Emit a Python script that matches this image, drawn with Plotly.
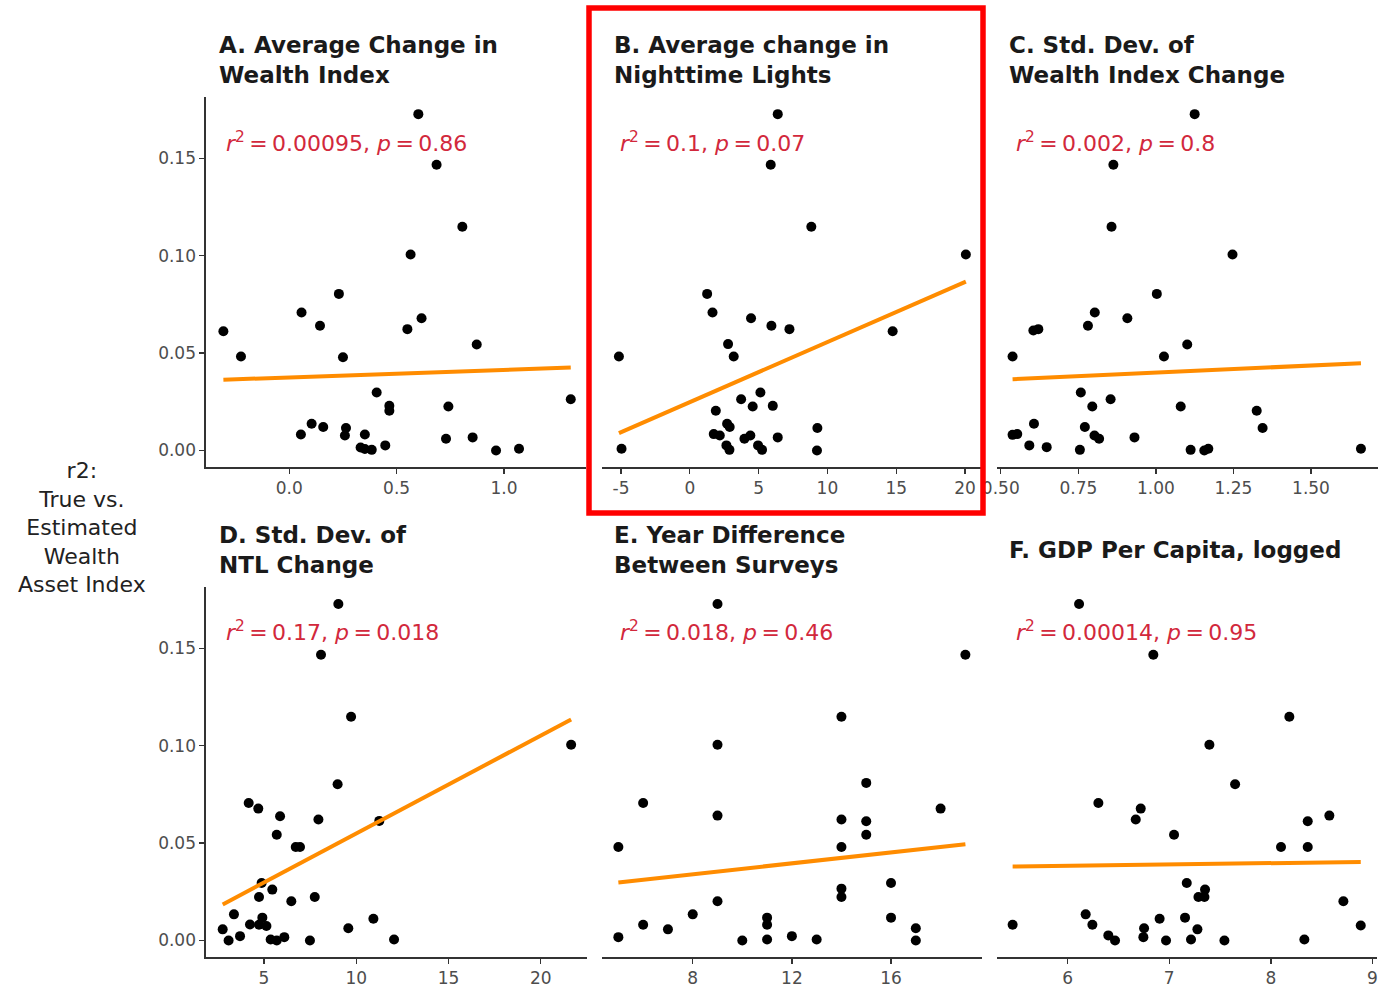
import numpy as np
import plotly.graph_objects as go

W, H = 1388, 988

# ---------------- data ----------------
A_x = [-0.307, -0.225, 0.057, 0.143, 0.231, 0.250, 0.054, 0.104, 0.158, 0.264, 0.259, 0.352, 0.332, 0.352,
       0.384, 0.407, 0.466, 0.466, 0.447, 0.550, 0.565, 0.601, 0.616, 0.686, 0.806, 0.873, 0.741, 0.730,
       0.854, 0.963, 1.070, 1.311]
A_y = [0.0612, 0.0482, 0.0708, 0.0640, 0.0804, 0.0479, 0.0082, 0.0137, 0.0120, 0.0115, 0.0077, 0.0082, 0.0015, 0.0007,
       0.0003, 0.0298, 0.0229, 0.0204, 0.0026, 0.0623, 0.1006, 0.1727, 0.0679, 0.1467, 0.1149, 0.0544, 0.0226, 0.0060,
       0.0067, 0.0000, 0.0009, 0.0263]

B_x = [-5.15, -4.96, 1.26, 1.65, 2.78, 3.19, 4.45, 5.93, 7.24, 6.39, 5.88, 8.83, 20.06, 14.74, 3.73, 5.13,
       4.57, 6.03, 1.89, 2.71, 2.90, 1.74, 2.18, 3.97, 4.40, 6.39, 9.27, 9.24, 2.66, 2.88, 4.96, 5.25]
B_y = [0.0482, 0.0009, 0.0804, 0.0708, 0.0546, 0.0482, 0.0679, 0.0640, 0.0623, 0.1727, 0.1467, 0.1149, 0.1006, 0.0612,
       0.0263, 0.0298, 0.0226, 0.0229, 0.0204, 0.0137, 0.0120, 0.0084, 0.0077, 0.0060, 0.0077, 0.0067, 0.0115, 0.0000,
       0.0026, 0.0003, 0.0026, 0.0003]

C_x = [0.538, 0.538, 0.553, 0.605, 0.621, 0.607, 0.592, 0.648, 0.758, 0.755, 0.771, 0.781, 0.803, 0.795, 0.802,
       0.817, 0.854, 0.863, 0.857, 0.908, 0.931, 1.003, 1.026, 1.101, 1.080, 1.112, 1.125, 1.156, 1.169, 1.247,
       1.325, 1.344, 1.661]
C_y = [0.0482, 0.0080, 0.0084, 0.0616, 0.0623, 0.0137, 0.0026, 0.0017, 0.0298, 0.0003, 0.0120, 0.0640, 0.0708, 0.0226,
       0.0077, 0.0060, 0.0263, 0.1467, 0.1149, 0.0679, 0.0067, 0.0804, 0.0482, 0.0544, 0.0226, 0.0003, 0.1727, 0.0000,
       0.0009, 0.1006, 0.0204, 0.0115, 0.0009]

D_x = [2.76, 3.08, 3.37, 3.70, 4.17, 4.69, 4.24, 4.73, 4.73, 4.91, 5.13, 4.87, 5.45, 5.36, 5.69, 5.69, 5.87,
       6.10, 6.48, 6.72, 6.95, 7.49, 7.75, 7.95, 8.09, 9.03, 8.99, 9.57, 9.72, 10.93, 11.25, 12.05, 21.65]
D_y = [0.0057, 0.0000, 0.0134, 0.0022, 0.0706, 0.0677, 0.0082, 0.0223, 0.0081, 0.0117, 0.0074, 0.0295, 0.0261, 0.0005,
       0.0000, 0.0543, 0.0638, 0.0017, 0.0201, 0.0480, 0.0480, 0.0000, 0.0223, 0.0621, 0.1467, 0.1728, 0.0802, 0.0063,
       0.1149, 0.0111, 0.0614, 0.0005, 0.1005]

E_x = [5, 5, 6, 6, 7, 8, 9, 9, 9, 9, 10, 11, 11, 11, 12, 13, 14, 14, 14, 14, 14, 15, 15, 15, 16, 16, 17, 17, 18, 19]
E_y = [0.0480, 0.0017, 0.0706, 0.0081, 0.0057, 0.0134, 0.1728, 0.1005, 0.0641, 0.0201, 0.0000, 0.0117, 0.0081, 0.0005,
       0.0022, 0.0005, 0.1149, 0.0621, 0.0480, 0.0266, 0.0223, 0.0809, 0.0612, 0.0543, 0.0295, 0.0117, 0.0063, 0.0000,
       0.0677, 0.1467]

F_x = [5.458, 6.112, 6.177, 6.243, 6.302, 6.400, 6.466, 6.670, 6.719, 6.752, 6.745, 6.843, 6.905, 6.968, 7.047,
       7.172, 7.155, 7.214, 7.277, 7.287, 7.352, 7.346, 7.395, 7.543, 7.648, 8.100, 8.182, 8.363, 8.363, 8.330,
       8.576, 8.714, 8.885]
F_y = [0.0081, 0.1728, 0.0134, 0.0081, 0.0706, 0.0026, 0.0000, 0.0621, 0.0677, 0.0063, 0.0017, 0.1467, 0.0111, 0.0000,
       0.0543, 0.0295, 0.0117, 0.0005, 0.0057, 0.0223, 0.0261, 0.0223, 0.1005, 0.0000, 0.0802, 0.0480, 0.1149, 0.0612,
       0.0480, 0.0005, 0.0641, 0.0201, 0.0077]

# fitted regression line values at the smallest and largest x of each panel
fit_y_at_xmin = [0.0363, 0.0089, 0.0366, 0.0185, 0.0298, 0.0380]
fit_y_at_xmax = [0.0426, 0.0867, 0.0448, 0.1135, 0.0494, 0.0403]

titles = ["A. Average Change in<br>Wealth Index",
          "B. Average change in<br>Nighttime Lights",
          "C. Std. Dev. of<br>Wealth Index Change",
          "D. Std. Dev. of<br>NTL Change",
          "E. Year Difference<br>Between Surveys",
          "F. GDP Per Capita, logged"]
r2_labels = ["0.00095", "0.1", "0.002", "0.17", "0.018", "0.00014"]
p_labels = ["0.86", "0.07", "0.8", "0.018", "0.46", "0.95"]

x_ticks = [[0.0, 0.5, 1.0], [-5, 0, 5, 10, 15, 20], [0.50, 0.75, 1.00, 1.25, 1.50],
           [5, 10, 15, 20], [8, 12, 16], [6, 7, 8, 9]]
x_ticktext = [["0.0", "0.5", "1.0"], ["-5", "0", "5", "10", "15", "20"],
              ["0.50", "0.75", "1.00", "1.25", "1.50"], ["5", "10", "15", "20"],
              ["8", "12", "16"], ["6", "7", "8", "9"]]
y_ticks = [0.00, 0.05, 0.10, 0.15]
y_ticktext = ["0.00", "0.05", "0.10", "0.15"]

xs = [A_x, B_x, C_x, D_x, E_x, F_x]
ys = [A_y, B_y, C_y, D_y, E_y, F_y]

# ---------------- layout geometry (pixels) ----------------
x_dom_px = [(206, 586), (602, 981), (997, 1378), (206, 587), (602, 982), (997, 1377)]
y_dom_px = [(97, 467)] * 3 + [(587, 957)] * 3
x_ranges = [(-0.388, 1.382), (-6.38, 21.16), (0.4878, 1.716), (1.855, 22.51), (4.34, 19.67), (5.304, 9.045)]
y_range = (-0.0085, 0.1815)
title_left = [217, 612, 1007, 217, 612, 1007]
title_cy = [60.5, 60.5, 60.5, 550, 550, 550]
lab_left = [224, 618, 1014, 224, 618, 1014]
lab_cy = [142, 142, 142, 631, 631, 631]

FONT = "DejaVu Sans"
AXC = "#333333"
TICKC = "#4d4d4d"
RED_TXT = "#d2283c"


def xp(px):
    return px / W


def yp(py):
    return 1 - py / H


fig = go.Figure()
layout = dict(width=W, height=H, margin=dict(l=0, r=0, t=0, b=0, pad=0, autoexpand=False),
              paper_bgcolor="white", plot_bgcolor="white", showlegend=False,
              font=dict(family=FONT, color="#222"))
annotations = []

for i in range(6):
    n = "" if i == 0 else str(i + 1)
    xa, ya = "x" + n, "y" + n
    x = np.array(xs[i], dtype=float)
    y = np.array(ys[i], dtype=float)
    # points
    fig.add_trace(go.Scatter(x=x, y=y, mode="markers", xaxis=xa, yaxis=ya,
                             marker=dict(color="black", size=10, line=dict(width=0)),
                             hoverinfo="skip"))
    # linear fit line
    fig.add_trace(go.Scatter(x=[x.min(), x.max()], y=[fit_y_at_xmin[i], fit_y_at_xmax[i]],
                             mode="lines", xaxis=xa, yaxis=ya,
                             line=dict(color="#ff8c00", width=4), hoverinfo="skip"))
    show_y = i in (0, 3)
    layout["xaxis" + n] = dict(domain=[xp(x_dom_px[i][0]), xp(x_dom_px[i][1])],
                               range=list(x_ranges[i]), anchor=ya, automargin=False,
                               showline=True, linecolor=AXC, linewidth=1.6,
                               ticks="outside", ticklen=5, tickwidth=1.4, tickcolor=AXC,
                               tickvals=x_ticks[i], ticktext=x_ticktext[i],
                               tickfont=dict(family=FONT, size=17, color=TICKC),
                               showgrid=False, zeroline=False, fixedrange=True)
    layout["yaxis" + n] = dict(domain=[yp(y_dom_px[i][1]), yp(y_dom_px[i][0])],
                               range=list(y_range), anchor=xa, automargin=False,
                               showline=show_y, linecolor=AXC, linewidth=1.6,
                               ticks="outside" if show_y else "", ticklen=5, tickwidth=1.4, tickcolor=AXC,
                               tickvals=y_ticks, ticktext=y_ticktext, showticklabels=show_y,
                               tickfont=dict(family=FONT, size=17, color=TICKC),
                               showgrid=False, zeroline=False, fixedrange=True)
    annotations.append(dict(xref="paper", yref="paper", x=xp(title_left[i]), y=yp(title_cy[i]),
                            xanchor="left", yanchor="middle", align="left", showarrow=False,
                            text="<b>" + titles[i] + "</b>",
                            font=dict(family=FONT, size=23, color="#1a1a1a")))
    annotations.append(dict(xref="paper", yref="paper", x=xp(lab_left[i]), y=yp(lab_cy[i]),
                            xanchor="left", yanchor="middle", align="left", showarrow=False,
                            text="<i>r</i><sup>2</sup>\u2009=\u2009" + r2_labels[i] + ", <i>p</i>\u2009=\u2009" + p_labels[i],
                            font=dict(family=FONT, size=22, color=RED_TXT)))

annotations.append(dict(xref="paper", yref="paper", x=xp(82), y=yp(527.5), xanchor="center", yanchor="middle",
                        align="center", showarrow=False,
                        text="r2:<br>True vs.<br>Estimated<br>Wealth<br>Asset Index",
                        font=dict(family=FONT, size=22, color="#222")))

layout["annotations"] = annotations
layout["shapes"] = [dict(type="rect", xref="paper", yref="paper", layer="above",
                         x0=xp(589), x1=xp(983), y0=yp(513), y1=yp(8),
                         line=dict(color="#ff0000", width=5.5), fillcolor="rgba(0,0,0,0)")]
fig.update_layout(**layout)
fig.write_html("out.html", config={"displayModeBar": False, "staticPlot": True},
               post_script="document.body.style.margin='0';document.body.style.padding='0';"
                           "document.documentElement.style.overflow='hidden';")
